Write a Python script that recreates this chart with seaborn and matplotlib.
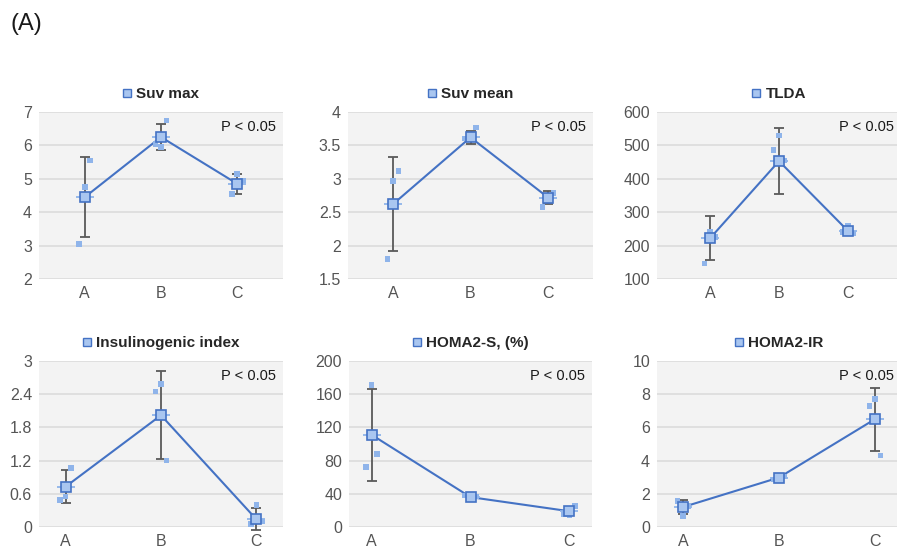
import numpy as np
import pandas as pd
import matplotlib
matplotlib.use('Agg')
import matplotlib.pyplot as plt
from matplotlib.lines import Line2D
import seaborn as sns

# Groups on the x axis
groups = ['A', 'B', 'C']

# Suv max
suv_max_mean = [4.45, 6.25, 4.85]
suv_max_sd = [1.2, 0.4, 0.3]
suv_max_pts = [[3.05, 4.75, 5.55], [6.05, 5.95, 6.75], [4.55, 5.15, 4.95]]

# Suv mean
suv_mean_mean = [2.62, 3.62, 2.72]
suv_mean_sd = [0.7, 0.1, 0.1]
suv_mean_pts = [[1.8, 2.97, 3.12], [3.6, 3.62, 3.77], [2.58, 2.72, 2.79]]

# TLDA
tlda_mean = [222, 453, 244]
tlda_sd = [66, 98, 12]
tlda_pts = [[147, 240, 225], [486, 530, 455], [240, 260, 236]]

# Insulinogenic index
ins_mean = [0.73, 2.02, 0.14]
ins_sd = [0.3, 0.8, 0.2]
ins_pts = [[0.49, 0.55, 1.07], [2.45, 2.58, 1.2], [0.05, 0.4, 0.1]]

# HOMA2-S, (%)
homa_s_mean = [111, 36, 19]
homa_s_sd = [55, 2, 5]
homa_s_pts = [[72, 171, 88], [38, 35, 37], [15, 14, 25]]

# HOMA2-IR
homa_ir_mean = [1.2, 2.98, 6.5]
homa_ir_sd = [0.4, 0.1, 1.9]
homa_ir_pts = [[1.55, 0.65, 1.25], [2.85, 3.1, 3.05], [7.3, 7.7, 4.3]]

# y ticks of each panel
suv_max_ticks = [2, 3, 4, 5, 6, 7]
suv_mean_ticks = [1.5, 2, 2.5, 3, 3.5, 4]
tlda_ticks = [100, 200, 300, 400, 500, 600]
ins_ticks = [0, 0.6, 1.2, 1.8, 2.4, 3]
homa_s_ticks = [0, 40, 80, 120, 160, 200]
homa_ir_ticks = [0, 2, 4, 6, 8, 10]

panels = [
    ('Suv max', suv_max_mean, suv_max_sd, suv_max_pts, suv_max_ticks),
    ('Suv mean', suv_mean_mean, suv_mean_sd, suv_mean_pts, suv_mean_ticks),
    ('TLDA', tlda_mean, tlda_sd, tlda_pts, tlda_ticks),
    ('Insulinogenic index', ins_mean, ins_sd, ins_pts, ins_ticks),
    ('HOMA2-S, (%)', homa_s_mean, homa_s_sd, homa_s_pts, homa_s_ticks),
    ('HOMA2-IR', homa_ir_mean, homa_ir_sd, homa_ir_pts, homa_ir_ticks),
]

# Axes boxes in pixels (left, right, top, bottom) and x padding in category units
W, H = 897, 548
boxes = [(39, 283, 112, 279), (348, 593, 112, 279), (657, 901, 112, 279),
         (39, 283, 361, 527), (349, 592, 361, 527), (657, 901, 361, 527)]
xpads = [0.6, 0.58, 0.77, 0.28, 0.23, 0.27]

line_blue = '#4472c4'
light_blue = '#8fb4ea'
face_blue = '#a9c6f0'

sns.set_theme(style='white')
plt.rcParams['font.family'] = ['Liberation Sans', 'DejaVu Sans']

fig = plt.figure(figsize=(W / 100, H / 100), dpi=100)
fig.text(10 / W, 1 - 24 / H, '(A)', fontsize=17, color='#1a1a1a', va='center')

for (title, mean, sd, pts, ticks), (l, r, t, b), pad in zip(panels, boxes, xpads):
    ax = fig.add_axes([l / W, 1 - b / H, (r - l) / W, (b - t) / H])
    ax.set_facecolor('#f3f3f3')
    x_idx = np.arange(len(groups))

    # individual points, shifted a few pixels left/centre/right of the group
    spacing = (r - l) / (2 + 2 * pad)
    off = 5.5 / spacing
    pts_df = pd.DataFrame({'x': [i + o for i in x_idx for o in (-off, 0, off)],
                           'value': [v for grp in pts for v in grp]})

    ax.errorbar(x_idx, mean, yerr=sd, fmt='none', ecolor='#5a5a5a',
                elinewidth=1.3, capsize=3.5, capthick=1.3, zorder=2, clip_on=False)
    sns.lineplot(x=x_idx, y=mean, color=line_blue, lw=1.5, ax=ax, zorder=3)
    ax.plot(x_idx, mean, ls='', marker='_', ms=13, mew=1.3, color=light_blue, zorder=3.5)
    sns.scatterplot(data=pts_df, x='x', y='value', marker='s', s=16, color=light_blue,
                    edgecolor='none', ax=ax, zorder=4)
    ax.plot(x_idx, mean, ls='', marker='s', ms=7.5, mfc=face_blue, mec=line_blue,
            mew=1.2, zorder=5)

    ax.set_xlim(-pad, 2 + pad)
    ax.set_ylim(ticks[0], ticks[-1])
    ax.set_xticks(x_idx)
    ax.set_xticklabels(groups)
    ax.set_yticks(ticks)
    ax.set_yticklabels([f'{v:g}' for v in ticks])
    ax.tick_params(axis='both', length=0, labelsize=11.5, labelcolor='#555555')
    ax.tick_params(axis='y', pad=5)
    ax.tick_params(axis='x', pad=5)
    ax.set_xlabel('')
    ax.set_ylabel('')
    for s in ax.spines.values():
        s.set_visible(False)
    ax.yaxis.grid(True, color='#dadada', lw=1.1)
    ax.set_axisbelow(True)

    # legend used as panel title
    handle = Line2D([], [], ls='', marker='s', ms=6, mfc=face_blue, mec=line_blue, mew=1)
    ax.legend([handle], [title], loc='center', bbox_to_anchor=(0.5, 1 + 18 / (b - t)),
              frameon=False, handlelength=0.6, handletextpad=0.3,
              prop={'weight': 'bold', 'size': 11}, labelcolor='#262626')

    ax.text(1 - 7 / (r - l), 0.91, 'P < 0.05', transform=ax.transAxes, ha='right',
            va='center', fontsize=10.5, color='#1a1a1a')

fig.savefig('out.png', dpi=100)
